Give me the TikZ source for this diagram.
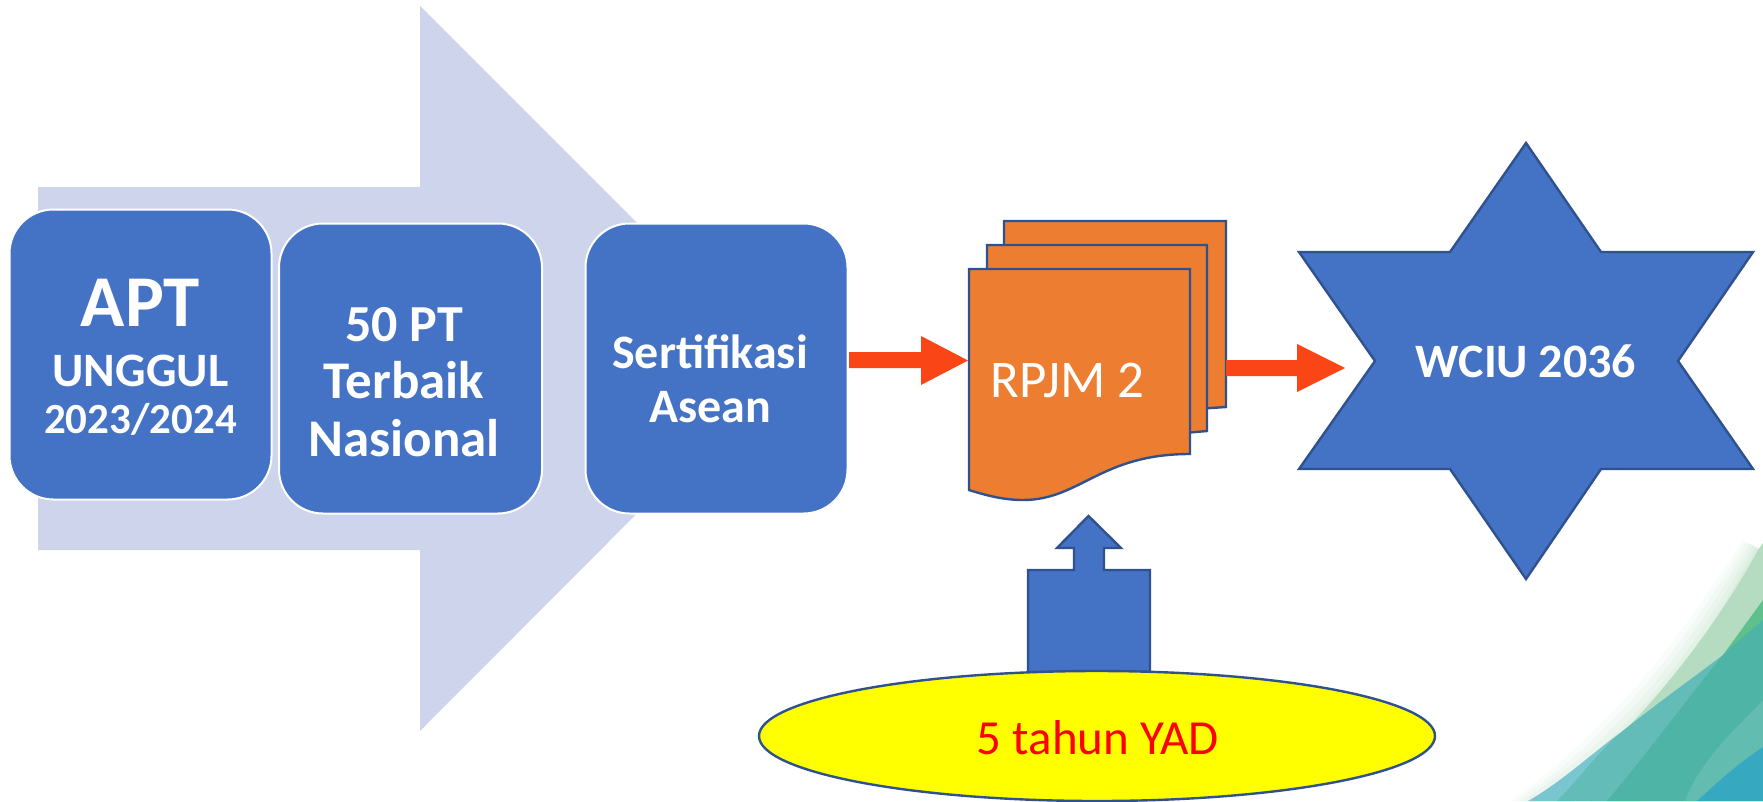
\documentclass[tikz,border=0pt]{standalone}
\usepackage{fontspec}
\setmainfont{Carlito}
\usetikzlibrary{shapes.geometric}
\definecolor{boxblue}{HTML}{4472C4}
\definecolor{edgeblue}{HTML}{2F528F}
\definecolor{lav}{HTML}{CDD4EC}
\definecolor{docorange}{HTML}{ED7D31}
\definecolor{arrowred}{HTML}{FA4616}
\definecolor{ovalyellow}{HTML}{FFFF00}
\definecolor{puretext}{HTML}{FF0000}
\definecolor{fadegreen}{HTML}{B5DCC0}
\newcommand{\fz}[2]{\fontsize{#1}{#2}\selectfont\lineskiplimit=-200pt\parindent=0pt\parskip=0pt\relax}
\tikzset{
  x=1pt,y=-1pt,
  roundbox/.style={draw=white,line width=2pt,fill=boxblue,rounded corners=44pt,inner sep=0pt,
    minimum width=#1,minimum height=290pt},
  lbl/.style={text=white,font=\bfseries,align=flush center,inner sep=0pt,text width=255pt},
  shapeedge/.style={draw=edgeblue,line width=2.4pt,line join=miter},
  docsheet/.style={shapeedge,fill=docorange},
  bluefill/.style={shapeedge,fill=boxblue},
}
\begin{document}
\begin{tikzpicture}
\useasboundingbox (0,0) rectangle (1763,801);
% swirl, bottom right
\begin{scope}
\clip (0,0) rectangle (1763,801);
\foreach \d/\o in {30/.08,24/.1,18/.12,12/.15,6/.18}{
  \fill[fadegreen,opacity=\o] (1540-\d,801) .. controls (1640-\d,745-\d/2) and (1705-\d,660-\d/2) .. (1758-\d/2,550-\d/3) -- (1763,550) -- (1763,801) -- cycle;
}
\fill[fadegreen] (1590,801) -- (1623,732) .. controls (1665,690) and (1720,620) .. (1758,550) -- (1763,543) -- (1763,801) -- cycle;
\fill[color={rgb,255:red,95;green,192;blue,142}] (1723,655) -- (1763,600) -- (1763,640) -- cycle;
\fill[color={rgb,255:red,122;green,198;blue,208}] (1528,801) .. controls (1560,783) and (1590,755) .. (1620,733) -- (1575,801) -- cycle;
\fill[color={rgb,255:red,100;green,188;blue,184}] (1557,801) .. controls (1578,780) and (1600,750) .. (1620,733) .. controls (1655,705) and (1690,680) .. (1723,655) -- (1640,801) -- cycle;
\fill[color={rgb,255:red,78;green,180;blue,166}] (1607,801) .. controls (1650,750) and (1690,695) .. (1723,655) .. controls (1738,640) and (1750,632) .. (1763,620) -- (1763,801) -- cycle;
\fill[color={rgb,255:red,98;green,188;blue,176}] (1685,801) .. controls (1700,760) and (1735,730) .. (1763,700) -- (1763,750) -- (1697,801) -- cycle;
\fill[color={rgb,255:red,54;green,169;blue,192}] (1697,801) .. controls (1720,780) and (1740,762) .. (1763,747) -- (1763,801) -- cycle;
\end{scope}
% big background arrow
\fill[lav] (38,187) -- (420,187) -- (420,6) -- (782,368) -- (420,731) -- (420,550) -- (38,550) -- cycle;
% rounded boxes
\node[roundbox=262pt] (b1) at (140.5,354.5) {};
\node[roundbox=263pt] (b2) at (410.5,368.5) {};
\node[roundbox=262pt] (b3) at (716.5,368.5) {};
\node[lbl] (t1) at (140.5,357) {\fz{73}{60}APT\par\fz{48}{60}UNGGUL\par\fz{43}{47}2023/2024\par};
\node[lbl] (t2) at (404,382) {\fz{52}{57}50 PT\par\fz{53}{57}Terbaik\par\fz{53}{58}Nasional\par};
\node[lbl] (t3) at (710,378.5) {\fz{48}{54}Sertifikasi\par\fz{48}{54}Asean\par};
% stacked document
\path[docsheet] (1004,221) -- (1226,221) -- (1226,407) -- (1150,412) -- (1004,412) -- cycle;
\path[docsheet] (987,245) -- (1207,245) -- (1207,431) -- (1150,436) -- (987,436) -- cycle;
\path[docsheet] (969,269) -- (1190,269) -- (1190,454) .. controls (1100,454) and (1080,500) .. (1023,500) .. controls (1003,500) and (985,495) .. (969,490) -- cycle;
\node[text=white,font=\fontsize{53}{53}\selectfont,inner sep=0pt] (doc) at (1067.5,380) {RPJM 2};
% star
\path[bluefill] (1526,143) -- (1601,252) -- (1753,252) -- (1678,361) -- (1753,469) -- (1601,469) -- (1526,579) -- (1450,469) -- (1299,469) -- (1375,361) -- (1299,252) -- (1450,252) -- cycle;
\node[text=white,font=\bfseries\fontsize{48}{48}\selectfont,inner sep=0pt] (star) at (1526,361) {WCIU 2036};
% arrows between
\fill[arrowred] (849,352) -- (921,352) -- (921,336) -- (968,360.5) -- (921,385) -- (921,368) -- (849,368) -- cycle;
\fill[arrowred] (1226,360) -- (1297,360) -- (1297,344) -- (1345,368) -- (1297,392) -- (1297,376) -- (1226,376) -- cycle;
% upward block
\path[bluefill] (1028,672) -- (1028,570) -- (1074,570) -- (1074,548) -- (1057,548) -- (1088.5,516) -- (1121,548) -- (1104,548) -- (1104,570) -- (1150,570) -- (1150,672) -- cycle;
% ellipse
\node[ellipse,draw=edgeblue,line width=2.4pt,fill=ovalyellow,minimum width=676pt,minimum height=130pt,inner sep=0pt] (yad) at (1097,736) {};
\node[text=puretext,font=\fontsize{49}{49}\selectfont,inner sep=0pt] (yadt) at (1098,738) {5 tahun YAD};
\end{tikzpicture}
\end{document}
